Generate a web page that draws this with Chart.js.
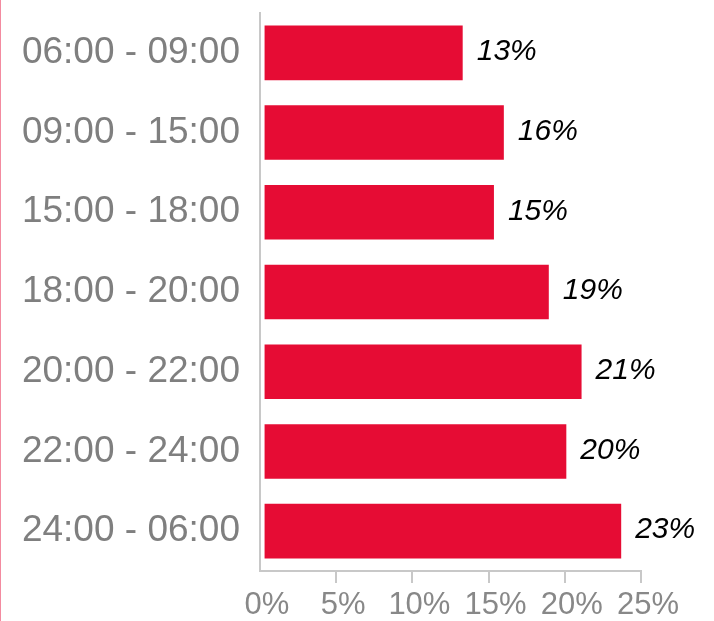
<!DOCTYPE html>
<html>
<head>
<meta charset="utf-8">
<script src="https://cdn.jsdelivr.net/npm/chart.js@4.4.1/dist/chart.umd.min.js"></script>
<style>
    html, body { margin: 0; padding: 0; background: #fff; }
    #wrap { position: relative; width: 714px; height: 621px; }
    #edge { position: absolute; left: 0; top: 0; width: 1px; height: 621px; background: #f38ba0; }
    canvas { position: absolute; left: 0; top: 0; }
</style>
</head>
<body>
<div id="wrap">
    <canvas id="timeChart" width="714" height="621"></canvas>
    <div id="edge"></div>
</div>
<script>
// Time slots and share of activity per slot
const timeSlots = ['06:00 - 09:00', '09:00 - 15:00', '15:00 - 18:00', '18:00 - 20:00', '20:00 - 22:00', '22:00 - 24:00', '24:00 - 06:00'];
const shareValues = [13.3, 16.0, 15.35, 18.95, 21.1, 20.1, 23.7];
const shareLabels = ['13%', '16%', '15%', '19%', '21%', '20%', '23%'];
const xTicks = [0, 5, 10, 15, 20, 25];

const fontFamily = '"Liberation Sans", Arial, Helvetica, sans-serif';

// draws the percentage text right of each bar
const valueLabelPlugin = {
    id: 'valueLabels',
    afterDatasetsDraw(chart) {
        const ctx = chart.ctx;
        const meta = chart.getDatasetMeta(0);
        ctx.save();
        ctx.font = 'italic 30px ' + fontFamily;
        ctx.fillStyle = '#000';
        ctx.textAlign = 'left';
        ctx.textBaseline = 'middle';
        meta.data.forEach((bar, i) => {
            ctx.fillText(shareLabels[i], bar.x + 14, bar.y - 1);
        });
        ctx.restore();
    }
};

new Chart(document.getElementById('timeChart'), {
    type: 'bar',
    data: {
        labels: timeSlots,
        datasets: [{
            data: shareValues,
            base: 0.3,
            backgroundColor: '#e60c34',
            borderWidth: 0,
            categoryPercentage: 1,
            barPercentage: 0.685
        }]
    },
    options: {
        indexAxis: 'y',
        responsive: false,
        animation: false,
        layout: {
            padding: { left: 0, right: 73, top: 13, bottom: 0 }
        },
        plugins: {
            legend: { display: false },
            tooltip: { enabled: false }
        },
        scales: {
            x: {
                min: 0,
                max: 25,
                afterBuildTicks(scale) {
                    scale.ticks = xTicks.map(v => ({ value: v }));
                },
                afterFit(scale) {
                    scale.height = 50;
                    scale.paddingLeft = 0;
                    scale.paddingRight = 0;
                },
                ticks: {
                    callback: v => v + '%',
                    color: '#888888',
                    font: { family: fontFamily, size: 31 },
                    padding: 4,
                    labelOffset: 7,
                    maxRotation: 0
                },
                grid: {
                    drawOnChartArea: false,
                    drawTicks: true,
                    tickLength: 12,
                    lineWidth: 2,
                    color: ctx => ctx.index === 0 ? 'rgba(0,0,0,0)' : '#c8c8c8'
                },
                border: { display: true, color: '#c8c8c8', width: 2 }
            },
            y: {
                afterFit(scale) {
                    scale.width = 260;
                    scale.paddingTop = 0;
                    scale.paddingBottom = 0;
                },
                ticks: {
                    color: '#7f7f7f',
                    font: { family: fontFamily, size: 37 },
                    padding: 20
                },
                grid: { display: false, drawTicks: false },
                border: { display: true, color: '#c8c8c8', width: 2 }
            }
        }
    },
    plugins: [valueLabelPlugin]
});
</script>
</body>
</html>
